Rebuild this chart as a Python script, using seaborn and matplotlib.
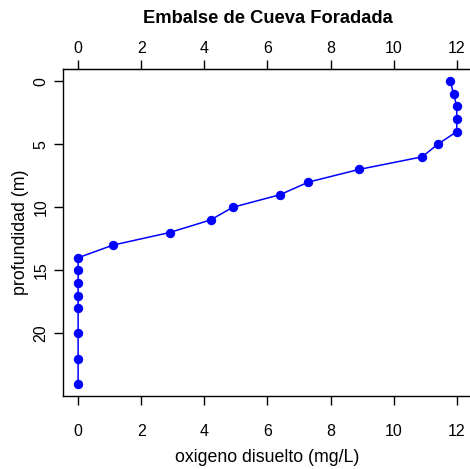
import matplotlib
matplotlib.use('Agg')
import matplotlib.pyplot as plt
import seaborn as sns
import pandas as pd

# profile data
profundidad = [0, 1, 2, 3, 4, 5, 6, 7, 8, 9, 10, 11, 12, 13, 14, 15, 16, 17, 18, 20, 22, 24]
oxigeno = [11.8, 11.9, 12.0, 12.0, 12.0, 11.4, 10.9, 8.9, 7.3, 6.4, 4.9, 4.2, 2.9, 1.1,
           0.0, 0.0, 0.0, 0.0, 0.0, 0.0, 0.0, 0.0]
xticks = [0, 2, 4, 6, 8, 10, 12]
yticks = [0, 5, 10, 15, 20]

df = pd.DataFrame({'oxigeno': oxigeno, 'profundidad': profundidad})

sns.set_style('ticks')
plt.rcParams['font.family'] = ['Liberation Sans', 'DejaVu Sans']
plt.rcParams['text.color'] = 'black'
plt.rcParams['axes.labelcolor'] = 'black'
plt.rcParams['xtick.color'] = 'black'
plt.rcParams['ytick.color'] = 'black'

fig = plt.figure(figsize=(4.70, 4.69), dpi=100)
ax = fig.add_axes([0.134, 0.1557, 0.870, 0.697])

sns.lineplot(data=df, x='oxigeno', y='profundidad', sort=False, estimator=None,
             color='#0000ff', linewidth=1.1, marker='o', markersize=6,
             markeredgecolor='#0000ff', ax=ax)

ax.set_xlim(-0.48, 12.48)
ax.set_ylim(24.96, -0.96)
ax.set_xticks(xticks)
ax.set_yticks(yticks)
ax.set_yticklabels([str(t) for t in yticks], rotation=90, va='center')
ax.tick_params(length=6.5, width=1, labelsize=11.5)
ax.tick_params(axis='x', pad=14)
ax.tick_params(axis='y', pad=4)

# top axis repeats the x scale
top = ax.secondary_xaxis('top')
top.set_xticks(xticks)
top.tick_params(length=6.5, width=1, labelsize=11.5, pad=3)
top.spines['top'].set_color('black')

for s in ax.spines.values():
    s.set_color('black')
    s.set_linewidth(1)

ax.set_xlabel('oxigeno disuelto (mg/L)', fontsize=12.8, labelpad=7)
ax.set_ylabel('profundidad (m)', fontsize=12.8, labelpad=3)
ax.set_title('Embalse de Cueva Foradada', fontsize=13.2, fontweight='bold', y=1.117)

fig.savefig('out.png', dpi=100)
